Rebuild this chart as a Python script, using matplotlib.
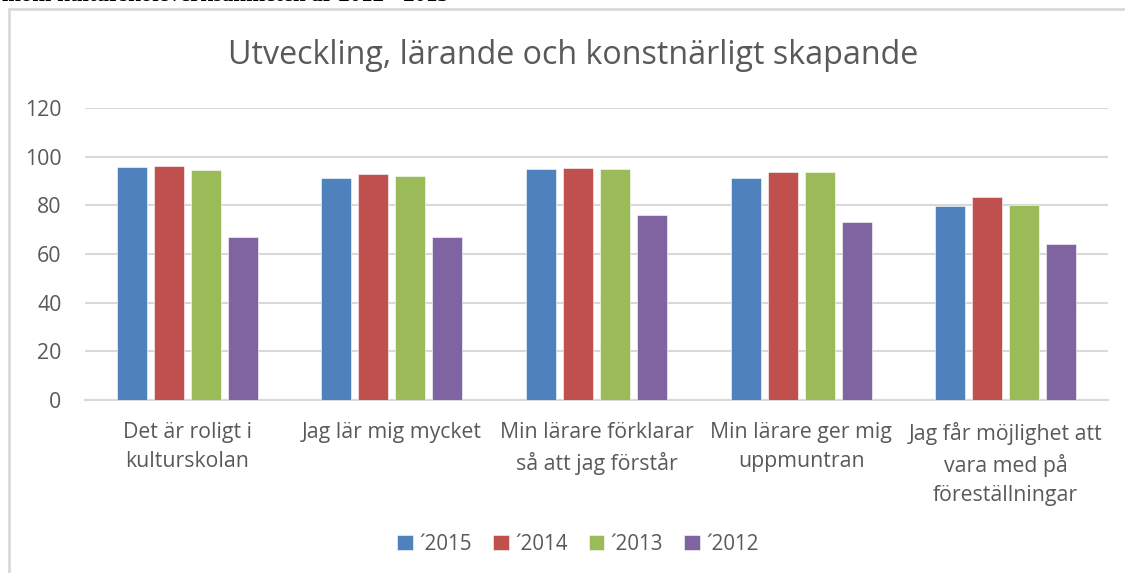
import matplotlib
matplotlib.use("Agg")
import matplotlib.pyplot as plt
from matplotlib.patches import Rectangle
import numpy as np

categories = ["Det är roligt i\nkulturskolan", "Jag lär mig mycket",
              "Min lärare förklarar\nså att jag förstår", "Min lärare ger mig\nuppmuntran",
              "Jag får möjlighet att\nvara med på\nföreställningar"]
series = ["´2015", "´2014", "´2013", "´2012"]
v2015 = [95.7, 91.2, 95.0, 91.2, 79.7]
v2014 = [96.0, 92.9, 95.3, 93.7, 83.4]
v2013 = [94.5, 92.0, 95.0, 93.5, 80.0]
v2012 = [67.0, 67.0, 76.0, 73.0, 64.0]
colors = ["#4F81BD", "#C0504D", "#9BBB59", "#8064A2"]

plt.rcParams["font.family"] = ["Open Sans", "DejaVu Sans"]
txt = "#595959"

fig = plt.figure(figsize=(11.25, 5.73), dpi=100)
# chart frame (only left/top edges are visible in the page scan)
fig.patches.append(Rectangle((9 / 1125, -0.1), 1.2, 1 - 9 / 573 + 0.1, transform=fig.transFigure,
                             facecolor="white", edgecolor="#d9d9d9", linewidth=2, zorder=-5))
# line of page text above the chart, cut by the crop
fig.text(0.002, 1 - 6 / 573, "inom kulturskoleverksamheten år 2012 - 2015", family="Liberation Serif",
         fontweight="bold", fontsize=16.4, va="bottom", ha="left", color="black")

ax = fig.add_axes([85 / 1125, 1 - 400 / 573, (1108 - 85) / 1125, 292 / 573])
ax.set_facecolor("none")
x = np.arange(len(categories))
step, w = 0.181, 0.147
for i, (vals, c) in enumerate(zip([v2015, v2014, v2013, v2012], colors)):
    ax.bar(x + (i - 1.5) * step, vals, width=w, color=c, label=series[i], zorder=3,
           edgecolor="white", linewidth=0.4)

ax.set_xlim(-0.5, len(categories) - 0.5)
ax.set_ylim(0, 120)
ax.set_yticks(range(0, 121, 20))
ax.grid(axis="y", color="#d9d9d9", linewidth=1.5, zorder=0)
for s in ["top", "right", "left"]:
    ax.spines[s].set_visible(False)
ax.spines["bottom"].set_color("#d9d9d9")
ax.spines["bottom"].set_linewidth(1.5)
ax.tick_params(axis="both", length=0, labelcolor=txt, labelsize=15.3)
ax.tick_params(axis="y", pad=17)
ax.set_xticks(x)
ax.set_xticklabels(categories, linespacing=1.5, va="top")
ax.tick_params(axis="x", pad=16)

fig.text(573 / 1125, 1 - 56 / 573, "Utveckling, lärande och konstnärligt skapande", ha="center", va="center",
         fontsize=23.2, color=txt)
ax.legend(loc="center", bbox_to_anchor=(578 / 1125, 1 - 544 / 573), bbox_transform=fig.transFigure,
          ncol=4, frameon=False, fontsize=14.8, labelcolor=txt, handlelength=0.75, handleheight=0.75,
          handletextpad=0.3, columnspacing=1.05)

fig.savefig("out.png", dpi=100)
